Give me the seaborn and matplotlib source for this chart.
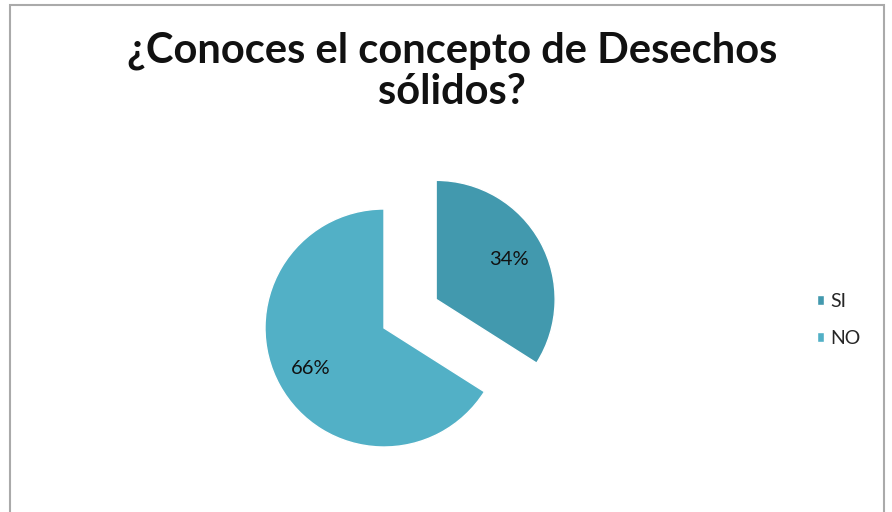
import matplotlib
matplotlib.use("Agg")
import matplotlib.pyplot as plt
import seaborn as sns
from matplotlib.patches import Rectangle

# Data
labels = ["SI", "NO"]
values = [34, 66]
colors = ["#4299AE", "#52B0C6"]
title = "¿Conoces el concepto de Desechos\nsólidos?"

sns.set_style("white")
plt.rcParams['font.family'] = ['Lato', 'DejaVu Sans']

W, H = 892, 512
fig = plt.figure(figsize=(W / 100, H / 100), dpi=100)

# pie axes: center at (384, 328) px, radius 119 px
r = 119
cx, cy = 384, 328
left = (cx - 2 * r) / W
width = 4 * r / W
ytop = 2.0
ybot = -(H - cy) / r
ax = fig.add_axes([left, 0, width, (ytop - ybot) * r / H])

wedges, texts, autotexts = ax.pie(
    values,
    colors=colors,
    startangle=90,
    counterclock=False,
    explode=[0.5, 0],
    autopct='%1.0f%%',
    pctdistance=0.7,
    textprops={'fontsize': 14.5, 'color': '#111111'},
)
ax.set_xlim(-2, 2)
ax.set_ylim(ybot, ytop)
ax.set_aspect('auto')

fig.text(452 / W, 1 - 71 / H, title, ha='center', va='center',
         fontsize=30, fontweight='bold', linespacing=1.1, color='#111111')

fig.legend(wedges, labels, loc='center left', bbox_to_anchor=(799 / W, 1 - 320 / H),
           frameon=False, fontsize=14, handlelength=0.4, handleheight=0.4,
           handletextpad=0.3, labelspacing=1.0)

fig.add_artist(Rectangle((10 / W, -0.02), 874 / W, (H - 5) / H + 0.02,
                         transform=fig.transFigure, fill=False,
                         edgecolor='#AAAAAA', lw=1.5))

fig.savefig("out.png", dpi=100, facecolor='white')
